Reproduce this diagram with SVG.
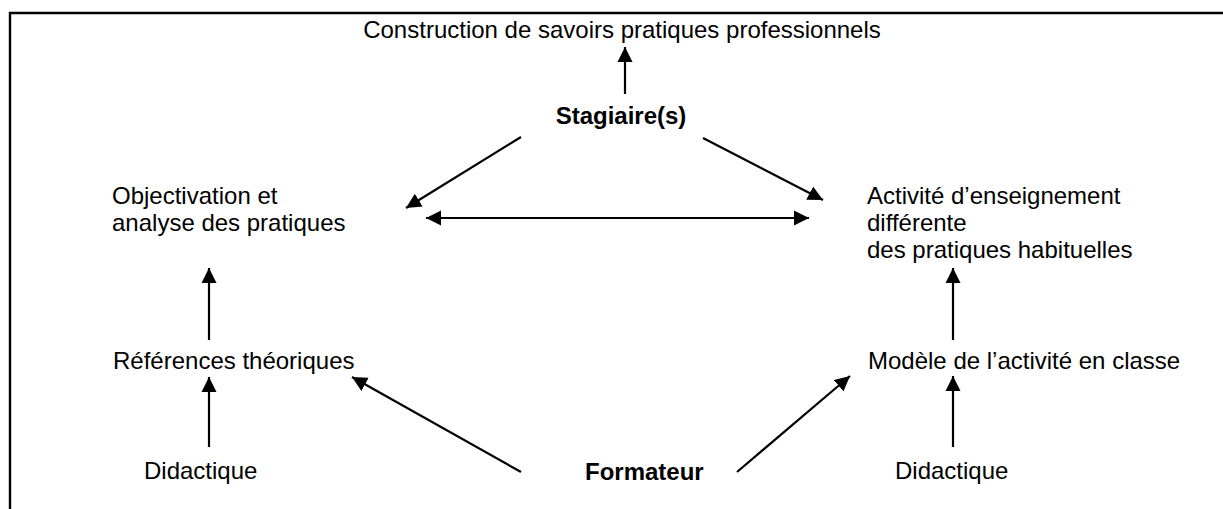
<svg xmlns="http://www.w3.org/2000/svg" width="1223" height="509" viewBox="0 0 1223 509">
<style>
.t{font-family:"Liberation Sans",Arial,sans-serif;font-size:24px;fill:#000}
.b{font-weight:bold}
.c{stroke:#000;stroke-width:2.2;fill:none;marker-end:url(#ah)}
.d{marker-start:url(#ahs)}
</style>
<defs>
<marker id="ah" markerUnits="userSpaceOnUse" markerWidth="16" markerHeight="16" refX="15" refY="8" orient="auto">
<path d="M0,0.5 L15,8 L0,15.5 z" fill="#000"/>
</marker>
<marker id="ahs" markerUnits="userSpaceOnUse" markerWidth="16" markerHeight="16" refX="0" refY="8" orient="auto">
<path d="M15,0.5 L0,8 L15,15.5 z" fill="#000"/>
</marker>
</defs>
<rect width="1223" height="509" fill="#fff"/>
<g id="frame"><path d="M10,509 V13 H1223" stroke="#000" stroke-width="2.4" fill="none"/></g>
<g id="n-construction"><text class="t" x="622" y="38" text-anchor="middle">Construction de savoirs pratiques professionnels</text></g>
<g id="n-stagiaire"><text class="t b" x="621" y="124" text-anchor="middle">Stagiaire(s)</text></g>
<g id="n-objectivation"><text class="t" x="112" y="204">Objectivation et</text><text class="t" x="112" y="231">analyse des pratiques</text></g>
<g id="n-activite"><text class="t" x="867" y="204">Activité d’enseignement</text><text class="t" x="867" y="231">différente</text><text class="t" x="867" y="258">des pratiques habituelles</text></g>
<g id="n-references"><text class="t" x="113" y="369">Références théoriques</text></g>
<g id="n-modele"><text class="t" x="868" y="369">Modèle de l’activité en classe</text></g>
<g id="n-didactique-l"><text class="t" x="144" y="479">Didactique</text></g>
<g id="n-formateur"><text class="t b" x="585" y="480">Formateur</text></g>
<g id="n-didactique-r"><text class="t" x="895" y="479">Didactique</text></g>
<g id="connectors">
<line class="c" x1="625" y1="94" x2="625" y2="47"/>
<line class="c" x1="521" y1="137" x2="406" y2="208"/>
<line class="c" x1="703" y1="138" x2="823" y2="200"/>
<line class="c d" x1="426" y1="218" x2="809" y2="218"/>
<line class="c" x1="209" y1="340" x2="209" y2="268"/>
<line class="c" x1="209" y1="447" x2="209" y2="377"/>
<line class="c" x1="521" y1="472" x2="352" y2="377"/>
<line class="c" x1="737" y1="472" x2="850" y2="376"/>
<line class="c" x1="953" y1="447" x2="953" y2="376"/>
<line class="c" x1="953" y1="340" x2="953" y2="268"/>
</g>
</svg>
